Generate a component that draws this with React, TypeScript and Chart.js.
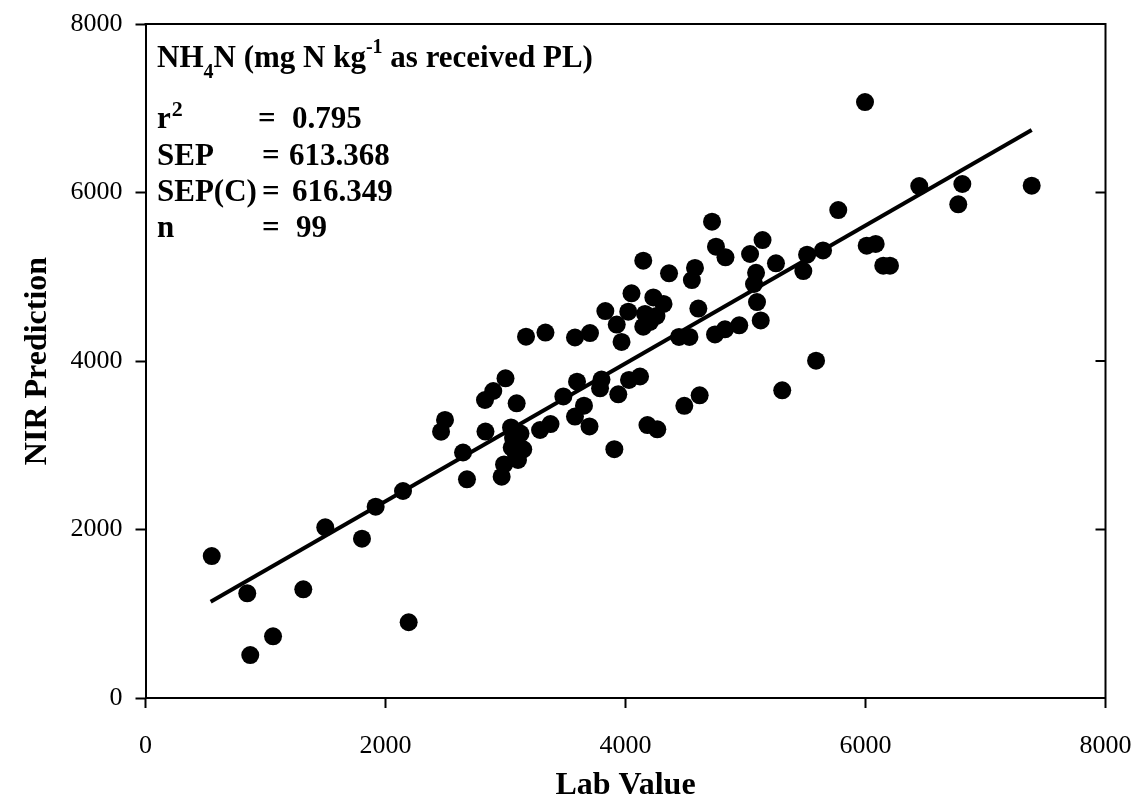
import React, { useEffect, useRef } from "react";
import { Chart, registerables } from "chart.js";

Chart.register(...registerables);

// Lab value (x) of each sample
const labValues = [
  552, 848, 873, 1063, 1315, 1498, 1804, 1918, 2146, 2193,
  2463, 2496, 2646, 2679, 2829, 2898, 3000, 2833, 3093, 3046,
  3125, 3052, 3148, 3104, 2988, 2968, 3171, 3333, 3288, 3375,
  3482, 3579, 3704, 3596, 3654, 3579, 3700, 3800, 3788, 3832,
  3907, 3927, 3940, 3967, 4023, 4050, 4029, 4121, 4148, 4148,
  4163, 4183, 4232, 4258, 4265, 4317, 4363, 4446, 4490, 4533,
  4553, 4579, 4607, 4618, 4721, 4754, 4746, 4833, 4829, 4948,
  5038, 5071, 5088, 5096, 5127, 5142, 5254, 5306, 5482, 5513,
  5588, 5646, 5773, 5996, 6010, 6085, 6148, 6204, 6448, 6773,
  6807, 7385, 4204, 3063, 3088,
];

// NIR prediction (y) of each sample
const nirPredictions = [
  1685, 1243, 510, 732, 1290, 2026, 1891, 2271, 2457, 899,
  3161, 3300, 2914, 2596, 3537, 3644, 3795, 3163, 3498, 3211,
  3139, 2973, 2952, 2825, 2772, 2627, 4288, 4338, 3181, 3252,
  3579, 4279, 4332, 3754, 3469, 3341, 3223, 3780, 3676, 4593,
  2953, 4433, 3605, 4226, 4585, 4804, 3775, 3816, 5191, 4407,
  4558, 3240, 4754, 4534, 3189, 4677, 5041, 4285, 3468, 4285,
  4961, 5104, 4623, 3593, 5653, 5357, 4315, 5231, 4376, 4424,
  5270, 4914, 5047, 4700, 4481, 5436, 5160, 3652, 5068, 5262,
  4004, 5312, 5792, 7074, 5369, 5389, 5131, 5131, 6077, 5860,
  6101, 6081, 4463, 3086, 2884,
];

// Regression line end points
const fitLabValues = [543, 7385];
const fitPredictions = [1143, 6742];

// Axis ticks
const xTickValues = [0, 2000, 4000, 6000, 8000];
const xTickLabels = ["0", "2000", "4000", "6000", "8000"];
const yTickValues = [0, 2000, 4000, 6000, 8000];
const yTickLabels = ["0", "2000", "4000", "6000", "8000"];

const FONT = '"Liberation Serif", "Times New Roman", Times, serif';

const decorPlugin = {
  id: "decor",
  afterDraw(chart: any) {
    const ctx = chart.ctx as CanvasRenderingContext2D;
    const { left, right, top, bottom } = chart.chartArea;
    ctx.save();
    // top & right frame
    ctx.strokeStyle = "#000";
    ctx.lineWidth = 2;
    ctx.beginPath();
    ctx.moveTo(left - 1, top);
    ctx.lineTo(right, top);
    ctx.lineTo(right, bottom + 1);
    ctx.stroke();
    // inward ticks on right side
    const ys = chart.scales.y;
    ys.ticks.forEach((t: any) => {
      const py = ys.getPixelForValue(t.value);
      ctx.beginPath();
      ctx.moveTo(right, py);
      ctx.lineTo(right - 10, py);
      ctx.stroke();
    });

    ctx.fillStyle = "#000";
    ctx.textAlign = "left";
    ctx.textBaseline = "alphabetic";
    const big = `bold 31px ${FONT}`;
    const small = `bold 20px ${FONT}`;

    // line 1
    let x = 157;
    const b1 = 67;
    const seg = (txt: string, font: string, y: number) => {
      ctx.font = font;
      ctx.fillText(txt, x, y);
      x += ctx.measureText(txt).width;
    };
    seg("NH", big, b1);
    seg("4", small, b1 + 11);
    seg("N (mg N kg", big, b1);
    seg("-1", small, b1 - 14);
    seg(" as received PL)", big, b1);

    // line 2
    ctx.font = big;
    ctx.fillText("r", 157, 128);
    const rw = ctx.measureText("r").width;
    ctx.font = `bold 22px ${FONT}`;
    ctx.fillText("2", 157 + rw + 1, 116);
    ctx.font = big;
    ctx.fillText("=", 258, 128);
    ctx.fillText("0.795", 292, 128);

    // line 3
    ctx.fillText("SEP", 157, 165);
    ctx.fillText("=", 262, 165);
    ctx.fillText("613.368", 289, 165);

    // line 4
    ctx.fillText("SEP(C)", 157, 201);
    ctx.fillText("=", 262, 201);
    ctx.fillText("616.349", 292, 201);

    // line 5
    ctx.fillText("n", 157, 237);
    ctx.fillText("=", 262, 237);
    ctx.fillText("99", 296, 237);

    // axis titles
    ctx.font = `bold 32px ${FONT}`;
    ctx.textAlign = "center";
    ctx.textBaseline = "middle";
    ctx.fillText("Lab Value", (left + right) / 2, 786);
    ctx.save();
    ctx.translate(38, (top + bottom) / 2);
    ctx.rotate(-Math.PI / 2);
    ctx.fillText("NIR Prediction", 0, 0);
    ctx.restore();

    ctx.restore();
  },
};

export default function App() {
  const canvasRef = useRef<HTMLCanvasElement | null>(null);

  useEffect(() => {
    if (!canvasRef.current) return;
    const points = labValues.map((v, i) => ({ x: v, y: nirPredictions[i] }));
    const fit = fitLabValues.map((v, i) => ({ x: v, y: fitPredictions[i] }));

    const chart = new Chart(canvasRef.current, {
      type: "scatter",
      data: {
        datasets: [
          {
            label: "Samples",
            data: points,
            backgroundColor: "#000",
            borderWidth: 0,
            pointRadius: 9,
            pointHoverRadius: 9,
          },
          {
            label: "Fit",
            type: "line",
            data: fit,
            borderColor: "#000",
            borderWidth: 4,
            pointRadius: 0,
            fill: false,
            tension: 0,
          } as any,
        ],
      },
      options: {
        responsive: false,
        animation: false,
        devicePixelRatio: 1,
        layout: { padding: { top: 24, right: 31.5, left: 0, bottom: 0 } },
        plugins: {
          legend: { display: false },
          tooltip: { enabled: false },
          title: { display: false },
        },
        scales: {
          x: {
            type: "linear",
            min: 0,
            max: 8000,
            afterBuildTicks: (s: any) => {
              s.ticks = xTickValues.map((v) => ({ value: v }));
            },
            afterFit: (s: any) => {
              s.height = 113;
              s.paddingLeft = 0;
              s.paddingRight = 0;
            },
            ticks: {
              color: "#000",
              font: { family: FONT, size: 26 },
              padding: 23,
              maxRotation: 0,
              autoSkip: false,
              callback: (v: any) => xTickLabels[xTickValues.indexOf(Number(v))] ?? "",
            },
            grid: {
              drawOnChartArea: false,
              drawTicks: true,
              tickLength: 10,
              tickWidth: 2,
              tickColor: "#000",
              color: "#000",
            },
            border: { display: true, color: "#000", width: 2 },
          },
          y: {
            type: "linear",
            min: 0,
            max: 8000,
            afterBuildTicks: (s: any) => {
              s.ticks = yTickValues.map((v) => ({ value: v }));
            },
            afterFit: (s: any) => {
              s.width = 145.5;
              s.paddingTop = 0;
              s.paddingBottom = 0;
            },
            ticks: {
              color: "#000",
              font: { family: FONT, size: 26 },
              padding: 13,
              autoSkip: false,
              callback: (v: any) => yTickLabels[yTickValues.indexOf(Number(v))] ?? "",
            },
            grid: {
              drawOnChartArea: false,
              drawTicks: true,
              tickLength: 10,
              tickWidth: 2,
              tickColor: "#000",
              color: "#000",
            },
            border: { display: true, color: "#000", width: 2 },
          },
        },
      },
      plugins: [decorPlugin],
    });
    return () => chart.destroy();
  }, []);

  return (
    <div style={{ position: "absolute", left: 0, top: 0, width: 1137, height: 811, background: "#fff" }}>
      <canvas ref={canvasRef} width={1137} height={811} style={{ display: "block" }} />
    </div>
  );
}
